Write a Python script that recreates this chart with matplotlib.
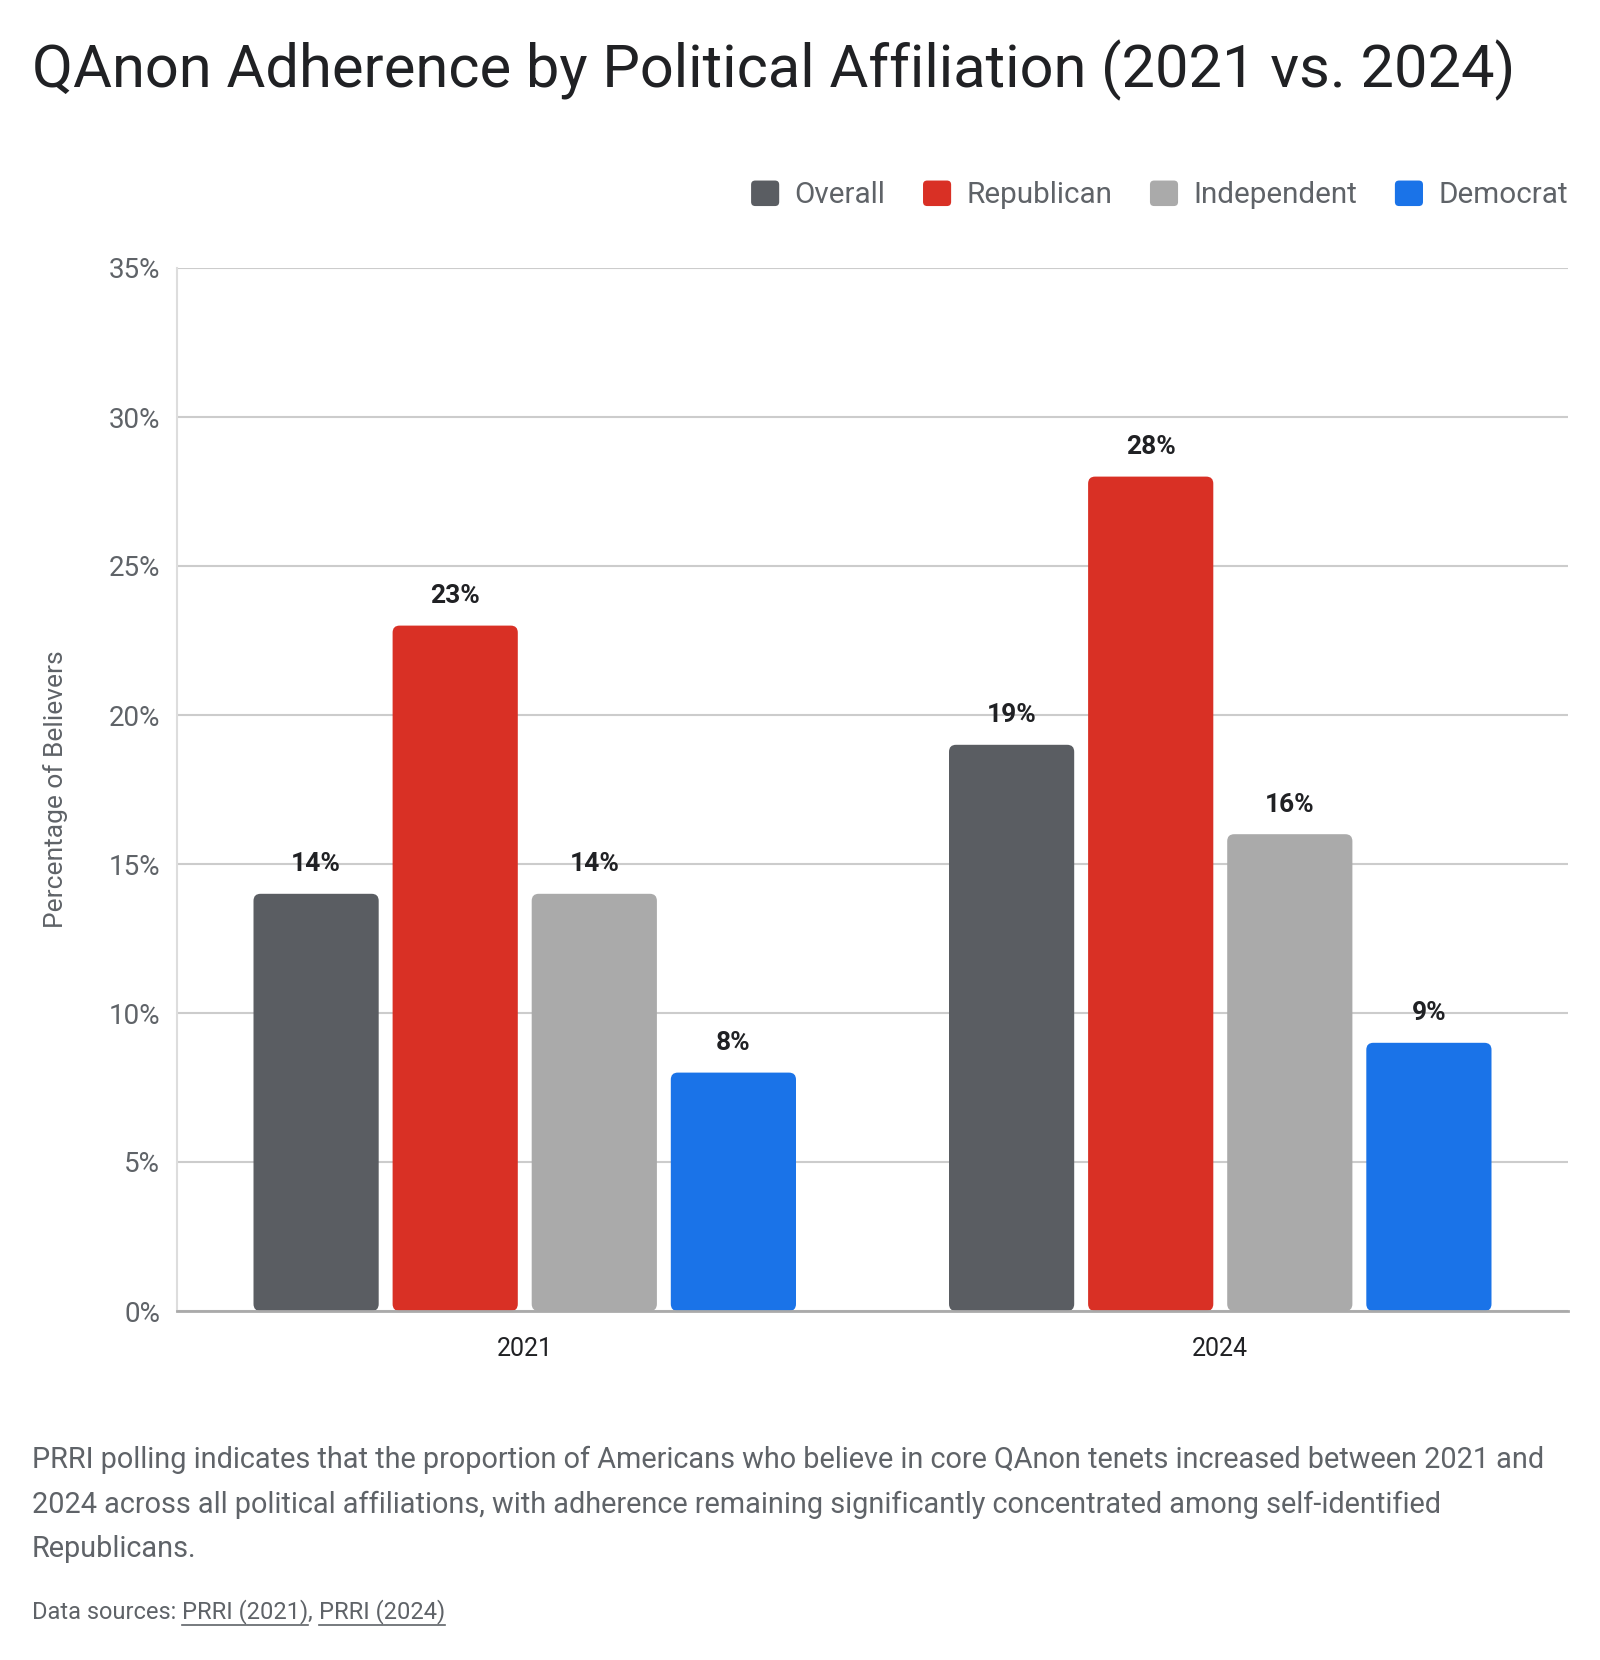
import matplotlib
matplotlib.use("Agg")
import matplotlib.pyplot as plt
import numpy as np
from matplotlib.patches import FancyBboxPatch, Patch
from matplotlib.legend_handler import HandlerPatch

plt.rcParams['font.family'] = ['Roboto', 'DejaVu Sans']

# ---- data ----
years = ["2021", "2024"]
series = ["Overall", "Republican", "Independent", "Democrat"]
overall = [14, 19]
republican = [23, 28]
independent = [14, 16]
democrat = [8, 9]
values = [overall, republican, independent, democrat]
colors = ["#5a5d62", "#d93025", "#aaaaaa", "#1a73e8"]
yticks = [0, 5, 10, 15, 20, 25, 30, 35]

title = "QAnon Adherence by Political Affiliation (2021 vs. 2024)"
ylabel = "Percentage of Believers"
caption_lines = [
    "PRRI polling indicates that the proportion of Americans who believe in core QAnon tenets increased between 2021 and",
    "2024 across all political affiliations, with adherence remaining significantly concentrated among self-identified",
    "Republicans.",
]

W, H = 1600, 1660
fig = plt.figure(figsize=(W / 100, H / 100), dpi=100)
fig.patch.set_facecolor("white")

ax_l, ax_r, ax_t, ax_b = 177, 1568, 268, 1311
ax = fig.add_axes([ax_l / W, 1 - ax_b / H, (ax_r - ax_l) / W, (ax_b - ax_t) / H])

x = np.arange(len(years))
bw = 0.18
step = 0.2
ax.set_xlim(-0.5, 1.5)
ax.set_ylim(0, 35)

# aspect for round corners
px_x = (ax_r - ax_l) / 2.0
px_y = (ax_b - ax_t) / 35.0
aspect = px_x / px_y
r = 7.0 / px_x

for i, (name, vals, col) in enumerate(zip(series, values, colors)):
    offs = (i - 1.5) * step
    bars = ax.bar(x + offs, vals, width=bw, color=col, label=name, zorder=3)
    for b, v in zip(bars, vals):
        b.set_visible(False)
        fb = FancyBboxPatch((b.get_x(), b.get_y()), b.get_width(), b.get_height(),
                            boxstyle=f"round,pad=0,rounding_size={r}",
                            mutation_aspect=aspect, facecolor=col, edgecolor="none",
                            zorder=3)
        ax.add_patch(fb)
        ax.annotate(f"{v}%", xy=(b.get_x() + b.get_width() / 2, v),
                    xytext=(0, 21.2), textcoords="offset points",
                    ha="center", va="center", fontsize=19, fontweight="bold",
                    color="#202124", zorder=4)

ax.set_yticks(yticks)
ax.set_yticklabels([f"{t}%" for t in yticks])
ax.set_xticks(x)
ax.set_xticklabels(years)
ax.yaxis.grid(True, color="#cccccc", linewidth=1.5, zorder=0)
ax.set_axisbelow(True)
for s in ["top", "right"]:
    ax.spines[s].set_visible(False)
ax.spines["left"].set_color("#dddddd")
ax.spines["left"].set_linewidth(1.5)
ax.spines["bottom"].set_color("#aaaaaa")
ax.spines["bottom"].set_linewidth(2)
ax.spines["bottom"].set_zorder(5)
ax.tick_params(axis="y", length=0, pad=12, labelsize=20, labelcolor="#5f6368")
ax.tick_params(axis="x", length=0, pad=19, labelsize=18, labelcolor="#202124")

# y label
fig.text(56 / W, 1 - 789 / H, ylabel, rotation=90, fontsize=19, color="#5f6368",
         ha="center", va="center")

# title
fig.text(32 / W, 1 - 70 / H, title, fontsize=42.9, color="#202124", ha="left", va="center")


class RoundHandler(HandlerPatch):
    def create_artists(self, legend, orig_handle, xdescent, ydescent, width, height,
                       fontsize, trans):
        p = FancyBboxPatch((-xdescent, -ydescent), width, height,
                           boxstyle="round,pad=0,rounding_size=3",
                           facecolor=orig_handle.get_facecolor(), edgecolor="none",
                           transform=trans)
        return [p]


# legend
handles = [Patch(facecolor=c, edgecolor="none", label=s) for s, c in zip(series, colors)]
fig.legend(handles=handles, loc="center right", bbox_to_anchor=(1568 / W, 1 - 195 / H),
           ncol=4, frameon=False, fontsize=21.3, handlelength=0.95, handleheight=0.95,
           handletextpad=0.52, columnspacing=1.27, borderpad=0, borderaxespad=0,
           labelcolor="#5f6368", handler_map={Patch: RoundHandler()})

# caption
for k, line in enumerate(caption_lines):
    fig.text(32 / W, 1 - (1460 + 44.5 * k) / H, line, fontsize=20.8, color="#5f6368",
             ha="left", va="center")

# sources with underline
fig.canvas.draw()
renderer = fig.canvas.get_renderer()
xpos = 32
ypos = 1612
parts = [("Data sources: ", False), ("PRRI (2021)", True), (", ", False), ("PRRI (2024)", True)]
for txt, ul in parts:
    t = fig.text(xpos / W, 1 - ypos / H, txt, fontsize=17, color="#5f6368", ha="left", va="center")
    bb = t.get_window_extent(renderer)
    if ul:
        yline = bb.y0 - 1
        fig.add_artist(plt.Line2D([bb.x0 / W, bb.x1 / W], [yline / H, yline / H],
                                  color="#5f6368", linewidth=1.2))
    xpos += bb.width

fig.savefig("out.png", dpi=100, facecolor="white")
